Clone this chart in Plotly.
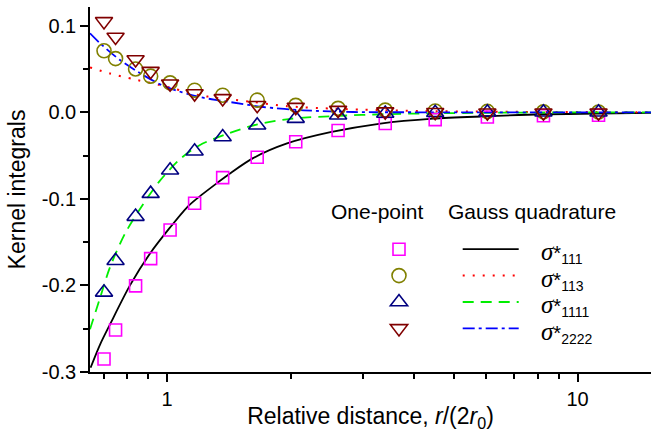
import plotly.graph_objects as go

# ---------------- data ----------------
# One-point (markers)
x_pts = [0.702, 0.749, 0.838, 0.912, 1.017, 1.167, 1.366, 1.658, 2.058, 2.61, 3.40, 4.50, 6.03, 8.26, 11.25]
s111_pts = [-0.285, -0.2515, -0.2005, -0.169, -0.136, -0.105, -0.0755, -0.052, -0.034, -0.021, -0.013, -0.0085, -0.0055, -0.004, -0.0035]
s113_pts = [0.071, 0.062, 0.050, 0.0417, 0.034, 0.0255, 0.0197, 0.014, 0.008, 0.0045, 0.0025, 0.0015, 0.001, 0.0005, 0.0003]
s1111_pts = [-0.208, -0.1715, -0.1205, -0.094, -0.067, -0.045, -0.0286, -0.015, -0.0073, -0.0035, -0.0015, -0.0005, 0.0, 0.0, 0.0]
s2222_pts = [0.105, 0.087, 0.061, 0.0475, 0.033, 0.0216, 0.016, 0.0081, 0.006, 0.0025, 0.0008, 0.0, -0.0005, -0.0005, -0.0005]

# Gauss quadrature (curves)
x_s111 = [0.651, 0.687, 0.726, 0.812, 0.909, 1.017, 1.117, 1.18, 1.33, 1.42, 1.62, 1.96, 2.50, 3.31, 4.45, 6.03, 8.13, 11.2, 15.1]
y_s111 = [-0.295, -0.268, -0.245, -0.200, -0.163, -0.133, -0.110, -0.100, -0.081, -0.071, -0.053, -0.036, -0.023, -0.013, -0.0073, -0.0046, -0.0023, -0.0015, -0.0008]

x_s113 = [0.649, 0.726, 0.828, 0.926, 1.036, 1.20, 1.33, 1.42, 1.62, 1.96, 2.50, 3.0, 4.14, 6.0, 8.0, 11.0, 15.1]
y_s113 = [0.0518, 0.0448, 0.0382, 0.0332, 0.0274, 0.0197, 0.0165, 0.0150, 0.0119, 0.0070, 0.0043, 0.0031, 0.0015, 0.0007, 0.0004, 0.0002, 0.0001]

x_s1111 = [0.649, 0.687, 0.726, 0.79, 0.875, 0.961, 1.076, 1.20, 1.42, 1.66, 2.0, 2.6, 3.4, 4.5, 6.0, 8.0, 11.0, 15.1]
y_s1111 = [-0.2507, -0.214, -0.179, -0.140, -0.106, -0.079, -0.054, -0.038, -0.024, -0.014, -0.0075, -0.0042, -0.0022, -0.0012, -0.0006, -0.0003, -0.0001, 0.0]

x_s2222 = [0.649, 0.687, 0.768, 0.875, 0.993, 1.20, 1.33, 1.42, 1.714, 2.15, 2.84, 4.0, 6.0, 10.0, 15.1]
y_s2222 = [0.0912, 0.0796, 0.0603, 0.0429, 0.0293, 0.0177, 0.0139, 0.0119, 0.0061, 0.0023, 0.0003, 0.0, 0.0, 0.0, 0.0]

# ticks
x_major = [1, 10]
x_major_text = ["1", "10"]
x_minor = [0.7, 0.8, 0.9, 2, 3, 4, 5, 6, 7, 8, 9]
y_major = [-0.3, -0.2, -0.1, 0.0, 0.1]
y_major_text = ["-0.3", "-0.2", "-0.1", "0.0", "0.1"]
y_minor = [-0.25, -0.15, -0.05, 0.05]

labels = ["111", "113", "1111", "2222"]
header_left = "One-point"
header_right = "Gauss quadrature"

# ---------------- styles ----------------
FONT = "Liberation Sans, Arial, sans-serif"
line_styles = [
    dict(color="#000000", width=1.8, dash="solid"),
    dict(color="#FF0000", width=2.0, dash="2px,8px"),
    dict(color="#00EE00", width=1.8, dash="11px,7px"),
    dict(color="#0000FF", width=1.8, dash="12px,4px,3px,4px"),
]
marker_styles = [
    dict(symbol="square-open", color="#FF00FF", size=12),
    dict(symbol="circle-open", color="#808000", size=14),
    dict(symbol="triangle-up-open", color="#000080", size=15),
    dict(symbol="triangle-down-open", color="#800000", size=15),
]

curves = [(x_s111, y_s111), (x_s113, y_s113), (x_s1111, y_s1111), (x_s2222, y_s2222)]
points = [s111_pts, s113_pts, s1111_pts, s2222_pts]

fig = go.Figure()

for (xs, ys), ls in zip(curves, line_styles):
    fig.add_trace(go.Scatter(x=xs, y=ys, mode="lines", line=dict(shape="spline", smoothing=0.8, **ls),
                             name="", legend="legend2", showlegend=True, hoverinfo="skip"))

for ys, ms in zip(points, marker_styles):
    fig.add_trace(go.Scatter(x=x_pts, y=ys, mode="markers",
                             marker=dict(symbol=ms["symbol"], size=ms["size"], color=ms["color"],
                                         line=dict(width=1.6, color=ms["color"])),
                             name="", legend="legend", showlegend=True, cliponaxis=True))

# plot area geometry
L, R, T, B = 90, 0, 7, 60
W, H = 651, 432
pw, ph = W - L - R, H - T - B


def px_to_paper_x(px):
    return (px - L) / pw


def py_to_paper_y(py):
    return 1 - (py - T) / ph


row_y = [249, 276, 302, 329]

annotations = [
    dict(text=header_left, x=px_to_paper_x(377), y=py_to_paper_y(211), xref="paper", yref="paper",
         showarrow=False, xanchor="center", yanchor="middle", font=dict(size=21, family=FONT, color="black")),
    dict(text=header_right, x=px_to_paper_x(532), y=py_to_paper_y(211), xref="paper", yref="paper",
         showarrow=False, xanchor="center", yanchor="middle", font=dict(size=21, family=FONT, color="black")),
]
for lab, ry in zip(labels, row_y):
    annotations.append(dict(
        text="<span style='font-family:Liberation Serif;font-size:25px'><i>σ</i></span>*<sub>" + lab + "</sub>",
        x=px_to_paper_x(539), y=py_to_paper_y(ry + 3), xref="paper", yref="paper", showarrow=False,
        xanchor="left", yanchor="middle", font=dict(size=20, family=FONT, color="black")))

legend_common = dict(bgcolor="rgba(0,0,0,0)", borderwidth=0, font=dict(size=18, family=FONT),
                     xanchor="left", yanchor="top", orientation="v", tracegroupgap=0)

fig.update_layout(
    width=W, height=H,
    margin=dict(l=L, r=R, t=T, b=B, pad=0),
    paper_bgcolor="white", plot_bgcolor="white",
    font=dict(family=FONT, size=20, color="black"),
    showlegend=True,
    legend=dict(x=px_to_paper_x(379), y=py_to_paper_y(231), itemwidth=30, **legend_common),
    legend2=dict(x=px_to_paper_x(457.7), y=py_to_paper_y(231), itemwidth=56, **legend_common),
    annotations=annotations,
    xaxis=dict(
        type="log", range=[-0.1878, 1.179],
        showline=True, linecolor="black", linewidth=1.5, mirror=False,
        showgrid=False, zeroline=False,
        tickmode="array", tickvals=x_major, ticktext=x_major_text,
        ticks="outside", ticklen=8, tickwidth=1.5, tickcolor="black",
        tickfont=dict(size=20, family=FONT),
        minor=dict(tickmode="array", tickvals=x_minor, ticks="outside", ticklen=5, tickwidth=1.5,
                   tickcolor="black", showgrid=False),
        title=dict(text="Relative distance, <i>r</i>/(2<i>r</i><sub>0</sub>)", font=dict(size=23, family=FONT),
                   standoff=2),
    ),
    yaxis=dict(
        range=[-0.3, 0.1216],
        showline=True, linecolor="black", linewidth=1.5, mirror=False,
        showgrid=False, zeroline=False,
        tickmode="array", tickvals=y_major, ticktext=y_major_text,
        ticks="outside", ticklen=8, tickwidth=1.5, tickcolor="black",
        tickfont=dict(size=20, family=FONT),
        minor=dict(tickmode="array", tickvals=y_minor, ticks="outside", ticklen=5, tickwidth=1.5,
                   tickcolor="black", showgrid=False),
        title=dict(text="Kernel integrals", font=dict(size=23, family=FONT), standoff=10),
    ),
)

fig.write_html("out.html")
